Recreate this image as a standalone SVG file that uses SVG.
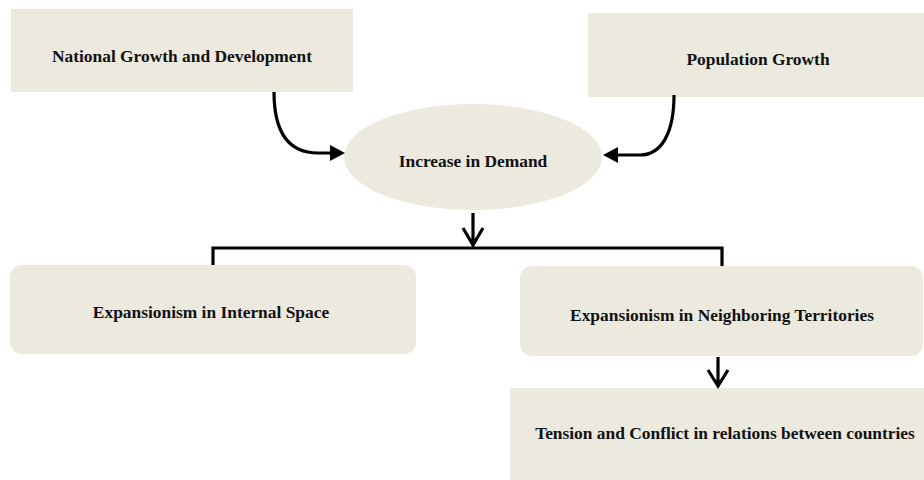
<svg xmlns="http://www.w3.org/2000/svg" width="924" height="480" viewBox="0 0 924 480">
<style>
.box{fill:#ECE9DF;}
.lbl{font-family:"Liberation Serif","Times New Roman",serif;font-weight:bold;font-size:17.4px;fill:#111;text-anchor:middle;}
.ln{fill:none;stroke:#000;stroke-width:3.2;}
</style>
<rect width="924" height="480" fill="#fff"/>
<g id="national">
<rect class="box" x="11" y="9" width="342" height="83"/>
<text class="lbl" x="182" y="62">National Growth and Development</text>
</g>
<g id="population">
<rect class="box" x="588" y="13" width="336" height="84"/>
<text class="lbl" x="758" y="65">Population Growth</text>
</g>
<g id="demand">
<ellipse class="box" cx="473" cy="157" rx="129" ry="53"/>
<text class="lbl" x="473" y="167">Increase in Demand</text>
</g>
<g id="internal">
<rect class="box" x="10" y="265" width="406" height="89" rx="12"/>
<text class="lbl" x="211" y="318">Expansionism in Internal Space</text>
</g>
<g id="neighboring">
<rect class="box" x="520" y="266" width="403" height="90" rx="12"/>
<text class="lbl" x="722" y="321">Expansionism in Neighboring Territories</text>
</g>
<g id="tension">
<rect class="box" x="510" y="388" width="414" height="92"/>
<text class="lbl" x="725" y="439">Tension and Conflict in relations between countries</text>
</g>
<g id="connectors">
<path class="ln" d="M274,92 C274,132 288,153 318,153 L333,153"/>
<polygon points="330,145 345,153 330,161" fill="#000"/>
<path class="ln" d="M674,95 C674,132 662,155 640,155 L616,155"/>
<polygon points="618,147 603,155 618,163" fill="#000"/>
<path class="ln" d="M473,213 L473,245 M463,228 L473,245 L483,228"/>
<path class="ln" d="M213,265 L213,248 L722,248 L722,266"/>
<path class="ln" d="M718,357 L718,386 M708,370 L718,386 L728,370"/>
</g>
</svg>
